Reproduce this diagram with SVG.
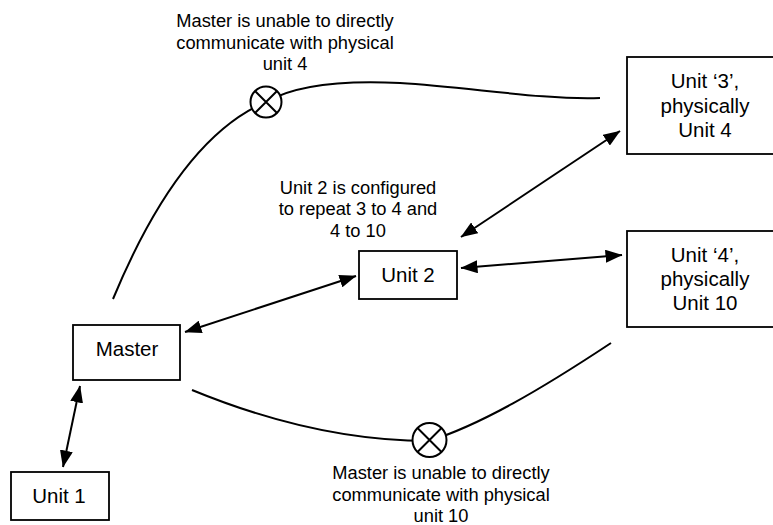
<svg xmlns="http://www.w3.org/2000/svg" width="773" height="525" viewBox="0 0 773 525">
<defs>
<marker id="ah" markerUnits="userSpaceOnUse" markerWidth="17" markerHeight="13" refX="16.5" refY="6.5" orient="auto-start-reverse" viewBox="0 0 17 13">
<path d="M0,0 L17,6.5 L0,13 z" fill="#000"/>
</marker>
<style>
.box{fill:#fff;stroke:#000;stroke-width:1.8}
.nt{font-family:"Liberation Sans",Arial,sans-serif;font-size:20.5px;fill:#000;text-anchor:middle}
.an{font-family:"Liberation Sans",Arial,sans-serif;font-size:18.3px;fill:#000;text-anchor:middle}
.cn{fill:none;stroke:#000;stroke-width:2}
.ar{fill:none;stroke:#000;stroke-width:2;marker-start:url(#ah);marker-end:url(#ah)}
.x{fill:#fff;stroke:#000;stroke-width:2}
</style>
</defs>
<g id="connectors">
<path class="cn" d="M113,299 C150,210 200,130 266,102 C295,85 340,80 400,83 C470,87 540,100 600,98"/>
<path class="cn" d="M192,390 C260,418 340,441 429,441 C480,425 540,390 611,343"/>
<line class="ar" x1="80" y1="386" x2="63" y2="467"/>
<line class="ar" x1="185" y1="332" x2="356" y2="276"/>
<line class="ar" x1="461" y1="237" x2="620" y2="131"/>
<line class="ar" x1="461" y1="268" x2="622" y2="255"/>
<g id="break4">
<circle class="x" cx="266" cy="102" r="15.5"/>
<path class="cn" d="M255,91 L277,113 M277,91 L255,113"/>
</g>
<g id="break10">
<circle class="x" cx="429.5" cy="440" r="17"/>
<path class="cn" d="M417.5,428 L441.5,452 M441.5,428 L417.5,452"/>
</g>
</g>
<g id="master">
<rect class="box" x="73" y="325" width="107" height="55"/>
<text class="nt" x="127" y="356">Master</text>
</g>
<g id="unit1">
<rect class="box" x="11" y="472" width="98" height="48"/>
<text class="nt" x="59" y="503">Unit 1</text>
</g>
<g id="unit2">
<rect class="box" x="359" y="251" width="98" height="48"/>
<text class="nt" x="408" y="282">Unit 2</text>
</g>
<g id="unit3">
<rect class="box" x="627" y="57" width="160" height="97"/>
<text class="nt" x="705" y="88">Unit ‘3’,</text>
<text class="nt" x="705" y="113">physically</text>
<text class="nt" x="705" y="137">Unit 4</text>
</g>
<g id="unit4">
<rect class="box" x="627" y="231" width="160" height="96"/>
<text class="nt" x="705" y="262">Unit ‘4’,</text>
<text class="nt" x="705" y="286">physically</text>
<text class="nt" x="705" y="310">Unit 10</text>
</g>
<g id="note-top">
<text class="an" x="285" y="27">Master is unable to directly</text>
<text class="an" x="285" y="48.5">communicate with physical</text>
<text class="an" x="285" y="70">unit 4</text>
</g>
<g id="note-unit2">
<text class="an" x="358" y="193.5">Unit 2 is configured</text>
<text class="an" x="358" y="215">to repeat 3 to 4 and</text>
<text class="an" x="358" y="237">4 to 10</text>
</g>
<g id="note-bottom">
<text class="an" x="441" y="479">Master is unable to directly</text>
<text class="an" x="441" y="501">communicate with physical</text>
<text class="an" x="441" y="522">unit 10</text>
</g>
</svg>
